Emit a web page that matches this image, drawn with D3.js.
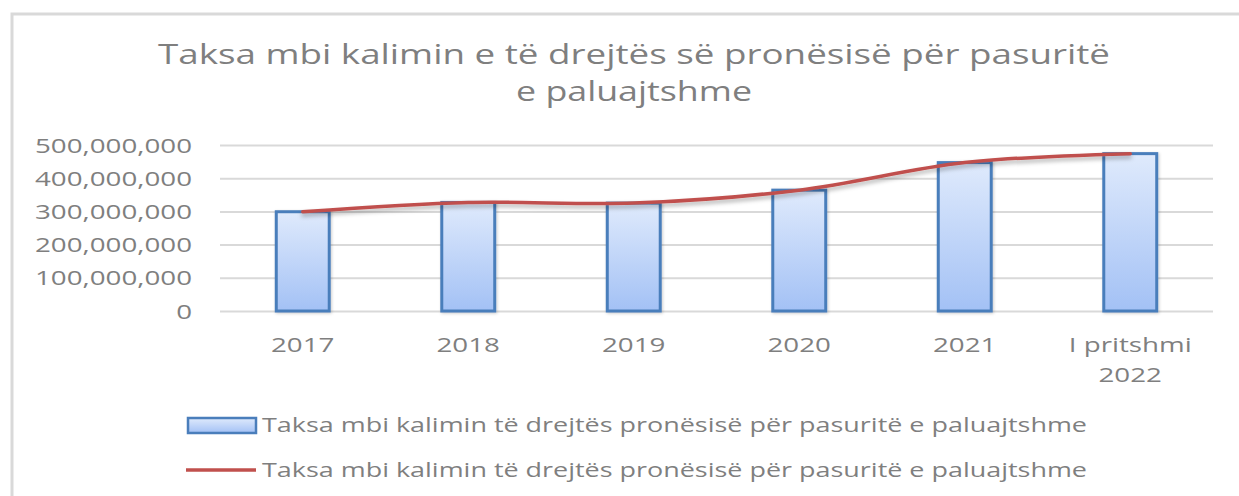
<!DOCTYPE html>
<html>
<head>
<meta charset="utf-8">
<title>Taksa mbi kalimin</title>
<script src="https://cdn.jsdelivr.net/npm/d3@7"></script>
<style>
body { margin: 0; background: #fff; }
text { font-family: "Open Sans", sans-serif; fill: #7f7f7f; }
</style>
</head>
<body>
<div id="chart"></div>
<script>
// data
var categories = ["2017", "2018", "2019", "2020", "2021", "I pritshmi 2022"];
var barValues = [299000000, 327000000, 325000000, 364000000, 447000000, 474000000];
var lineValues = [299000000, 327000000, 325000000, 364000000, 447000000, 474000000];
var yTicks = [0, 100000000, 200000000, 300000000, 400000000, 500000000];
var seriesName = "Taksa mbi kalimin të drejtës pronësisë për pasuritë e paluajtshme";
var titleLines = ["Taksa mbi kalimin e të drejtës së pronësisë për pasuritë", "e paluajtshme"];

var W = 1239, H = 496;
var plot = {left: 220, right: 1213, top: 145, bottom: 311};

var svg = d3.select('#chart').append('svg')
    .attr('width', W)
    .attr('height', H);

var defs = svg.append('defs');
var grad = defs.append('linearGradient')
    .attr('id', 'barGrad')
    .attr('x1', 0).attr('y1', 0).attr('x2', 0).attr('y2', 1);
grad.append('stop').attr('offset', '0%').attr('stop-color', '#dfeafc');
grad.append('stop').attr('offset', '100%').attr('stop-color', '#a3c1f5');

var shadow = defs.append('filter')
    .attr('id', 'shadow')
    .attr('x', '-10%').attr('y', '-50%').attr('width', '120%').attr('height', '200%');
shadow.append('feDropShadow')
    .attr('dx', 0).attr('dy', 3).attr('stdDeviation', 2)
    .attr('flood-color', '#000').attr('flood-opacity', 0.3);

var barShadow = defs.append('filter')
    .attr('id', 'barShadow')
    .attr('x', '-20%').attr('y', '-10%').attr('width', '140%').attr('height', '120%');
barShadow.append('feDropShadow')
    .attr('dx', 1).attr('dy', 1).attr('stdDeviation', 1.5)
    .attr('flood-color', '#000').attr('flood-opacity', 0.2);

svg.append('rect')
    .attr('width', W).attr('height', H).attr('fill', '#fff');

// outer chart border (runs off the right and bottom)
svg.append('rect')
    .attr('x', 12).attr('y', 14)
    .attr('width', 1400).attr('height', 700)
    .attr('fill', 'none')
    .attr('stroke', '#d9d9d9')
    .attr('stroke-width', 3);

// scales
var x = d3.scaleBand()
    .domain(categories)
    .range([plot.left, plot.right])
    .paddingInner(0.68)
    .paddingOuter(0.34);

var y = d3.scaleLinear()
    .domain([0, 500000000])
    .range([plot.bottom, plot.top]);

// title
svg.append('g').selectAll('text')
    .data(titleLines)
  .enter().append('text')
    .attr('x', 634)
    .attr('y', (d, i) => 64 + i * 37)
    .attr('text-anchor', 'middle')
    .style('font-size', '28px')
    .attr('textLength', (d, i) => i == 0 ? 952 : 236)
    .attr('lengthAdjust', 'spacingAndGlyphs')
    .text(d => d);

// gridlines
var yAxis = d3.axisLeft(y)
    .tickValues(yTicks)
    .tickSize(-(plot.right - plot.left))
    .tickFormat(d3.format(','));

var gy = svg.append('g')
    .attr('class', 'y axis')
    .attr('transform', 'translate(' + plot.left + ',0)')
    .call(yAxis);
gy.select('.domain').remove();
gy.selectAll('.tick line')
    .attr('stroke', '#d9d9d9')
    .attr('stroke-width', 2);

// tick labels: stretched wide like the picture, right edge at x=192
var labelRight = 192 - plot.left;
var yText = gy.selectAll('.tick text')
    .attr('dy', '0.36em')
    .attr('text-anchor', 'start')
    .style('font-size', '19.5px')
    .style('font-family', '"Open Sans", sans-serif')
    .attr('fill', '#7f7f7f');
var widest = d3.max(yText.nodes(), n => n.getComputedTextLength());
var ky = 157 / widest;
yText.each(function() {
    var w = this.getComputedTextLength() * ky;
    d3.select(this)
        .attr('x', labelRight - w)
        .attr('textLength', w)
        .attr('lengthAdjust', 'spacingAndGlyphs');
});

// x labels
var gx = svg.append('g').attr('class', 'x axis');
categories.forEach(function(d) {
    var parts = d == "I pritshmi 2022" ? ["I pritshmi", "2022"] : [d];
    var cx = x(d) + x.bandwidth() / 2;
    parts.forEach(function(p, i) {
        var t = gx.append('text')
            .attr('y', 352 + i * 30)
            .style('font-size', '19.5px')
            .text(p);
        var w = t.node().getComputedTextLength() * ky;
        t.attr('x', cx - w / 2)
            .attr('textLength', w)
            .attr('lengthAdjust', 'spacingAndGlyphs');
    });
});

// bars
svg.append('g').selectAll('rect')
    .data(barValues)
  .enter().append('rect')
    .attr('x', (d, i) => x(categories[i]))
    .attr('y', d => y(d))
    .attr('width', x.bandwidth())
    .attr('height', d => y(0) - y(d))
    .attr('fill', 'url(#barGrad)')
    .attr('stroke', '#4a7ebb')
    .attr('stroke-width', 3)
    .attr('filter', 'url(#barShadow)');

// line
var line = d3.line()
    .x((d, i) => x(categories[i]) + x.bandwidth() / 2)
    .y(d => y(d))
    .curve(d3.curveCatmullRom.alpha(0.5));

svg.append('path')
    .datum(lineValues)
    .attr('d', line)
    .attr('fill', 'none')
    .attr('stroke', '#c0504d')
    .attr('stroke-width', 3.5)
    .attr('stroke-linecap', 'round')
    .attr('filter', 'url(#shadow)');

// legend
var leg = svg.append('g').attr('class', 'legend');
leg.append('rect')
    .attr('x', 188).attr('y', 418)
    .attr('width', 68).attr('height', 15)
    .attr('fill', 'url(#barGrad)')
    .attr('stroke', '#4a7ebb')
    .attr('stroke-width', 2.5);
leg.append('line')
    .attr('x1', 186).attr('x2', 256)
    .attr('y1', 470).attr('y2', 470)
    .attr('stroke', '#c0504d')
    .attr('stroke-width', 3.5);
leg.selectAll('text')
    .data([seriesName, seriesName])
  .enter().append('text')
    .attr('x', 262)
    .attr('y', (d, i) => 432 + i * 45)
    .style('font-size', '19.5px')
    .attr('textLength', 825)
    .attr('lengthAdjust', 'spacingAndGlyphs')
    .text(d => d);
</script>
</body>
</html>
